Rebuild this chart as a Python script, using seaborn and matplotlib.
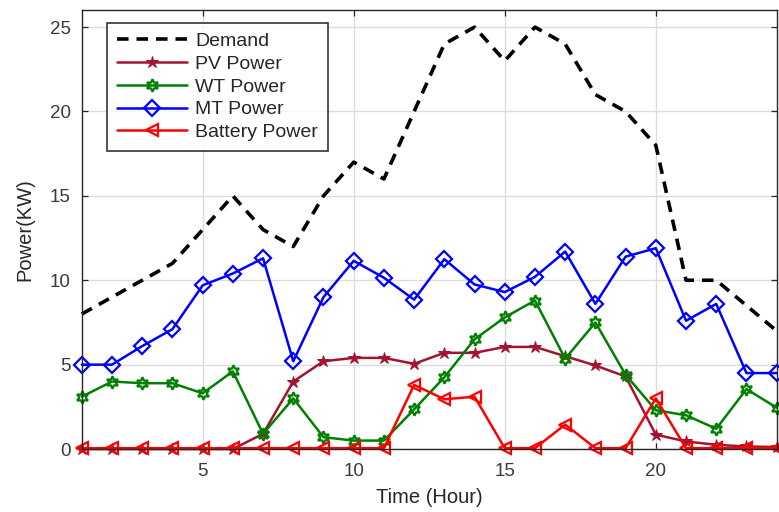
import matplotlib
matplotlib.use("Agg")
import matplotlib.pyplot as plt
import seaborn as sns
import pandas as pd

hours = list(range(1, 25))
demand = [8, 9, 10, 11, 13, 15, 13, 12, 15, 17, 16, 20, 24, 25, 23, 25, 24, 21, 20, 18, 10, 10, 8.5, 7]
pv_power = [0, 0, 0, 0, 0, 0, 0.9, 4.0, 5.2, 5.4, 5.4, 5.05, 5.7, 5.7, 6.05, 6.05, 5.5, 4.95, 4.3, 0.85, 0.45, 0.25, 0.15, 0.12]
wt_power = [3.1, 4.0, 3.9, 3.9, 3.3, 4.6, 0.9, 3.0, 0.7, 0.5, 0.5, 2.35, 4.25, 6.5, 7.8, 8.8, 5.35, 7.5, 4.4, 2.3, 2.0, 1.2, 3.55, 2.45]
mt_power = [5.0, 5.0, 6.1, 7.1, 9.7, 10.4, 11.3, 5.2, 9.0, 11.15, 10.15, 8.85, 11.25, 9.75, 9.3, 10.2, 11.7, 8.6, 11.4, 11.9, 7.6, 8.6, 4.5, 4.5]
battery_power = [0.05, 0.05, 0.05, 0.05, 0.05, 0.05, 0.05, 0.05, 0.05, 0.05, 0.05, 3.8, 2.95, 3.1, 0.05, 0.05, 1.45, 0.05, 0.05, 3.0, 0.05, 0.05, 0.05, 0.05]

df = pd.DataFrame({
    "Hour": hours,
    "Demand": demand,
    "PV Power": pv_power,
    "WT Power": wt_power,
    "MT Power": mt_power,
    "Battery Power": battery_power,
})

sns.set_theme(style="whitegrid")
plt.rcParams["font.family"] = ["Liberation Sans", "DejaVu Sans"]

fig = plt.figure(figsize=(7.79, 5.12), dpi=100)
ax = fig.add_axes([0.105, 0.123, 0.892, 0.857])

hexagram = (6, 1, 0)
styles = [
    ("Demand", dict(color="black", linestyle=(0, (3.2, 2.2)), linewidth=2.6, marker=None)),
    ("PV Power", dict(color="#A2142F", linewidth=1.8, marker="*", markersize=9,
                      markerfacecolor="#A2142F", markeredgecolor="#A2142F")),
    ("WT Power", dict(color="#008000", linewidth=1.8, marker=hexagram, markersize=9,
                      markerfacecolor="none", markeredgecolor="#008000", markeredgewidth=1.6)),
    ("MT Power", dict(color="#0000FF", linewidth=1.8, marker="D", markersize=8,
                      markerfacecolor="none", markeredgecolor="#0000FF", markeredgewidth=1.6)),
    ("Battery Power", dict(color="#FF0000", linewidth=1.8, marker="<", markersize=9,
                           markerfacecolor="none", markeredgecolor="#FF0000", markeredgewidth=1.6)),
]

for name, kw in styles:
    sns.lineplot(data=df, x="Hour", y=name, ax=ax, label=name, clip_on=False, **kw)

ax.set_xlim(1, 24)
ax.set_ylim(0, 26)
ax.set_xticks([5, 10, 15, 20])
ax.set_yticks([0, 5, 10, 15, 20, 25])
ax.tick_params(axis="both", which="both", direction="in", length=4, width=0.9,
               color="#262626", top=True, right=True, bottom=True, left=True,
               labelsize=13.5, labelcolor="#3a3a3a")
ax.tick_params(axis="x", pad=10)
ax.tick_params(axis="y", pad=8)
ax.set_xlabel("Time (Hour)", fontsize=14.5, color="#262626", labelpad=6)
ax.set_ylabel("Power(KW)", fontsize=14.5, color="#262626", labelpad=11)

ax.grid(True, color="#DCDCDC", linewidth=1.0)
for side in ["left", "bottom", "top", "right"]:
    ax.spines[side].set_visible(True)
    ax.spines[side].set_color("#262626")
    ax.spines[side].set_linewidth(1.0)

leg = ax.legend(loc="upper left", bbox_to_anchor=(0.036, 0.972), fontsize=14,
                frameon=True, fancybox=False, edgecolor="black", borderaxespad=0,
                handlelength=3.6, borderpad=0.5, labelspacing=0.27, handletextpad=0.45)
leg.get_frame().set_linewidth(1.2)

fig.savefig("out.png", dpi=100)
